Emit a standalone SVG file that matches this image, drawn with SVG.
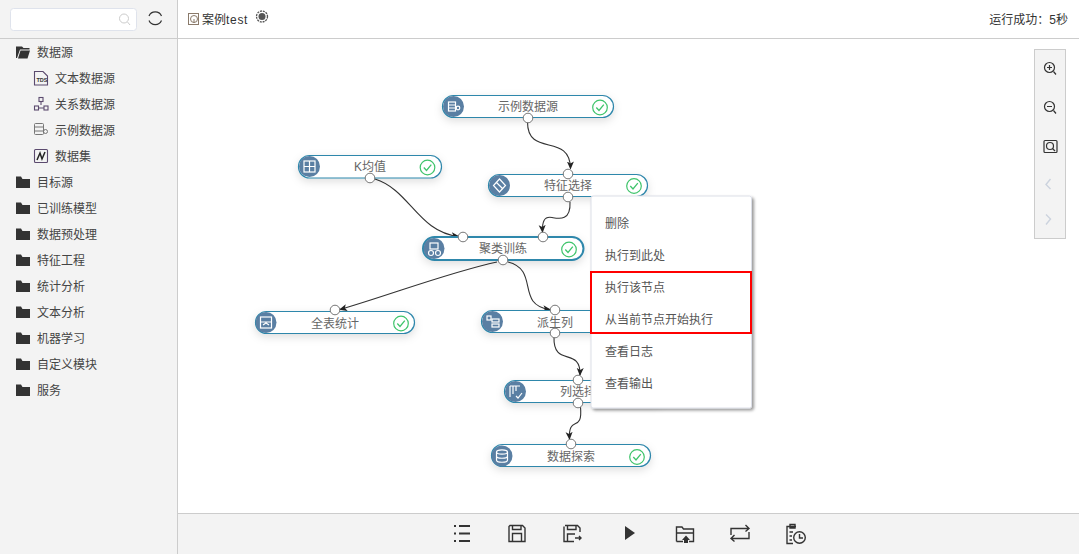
<svg xmlns="http://www.w3.org/2000/svg" width="1079" height="554" viewBox="0 0 1079 554">
<style>
text{font-family:"Liberation Sans","Noto Sans CJK SC",sans-serif;font-size:12px;fill:#444}
.nt{fill:#666;text-anchor:middle}
.pill{fill:#fff;stroke:#2f87ab;stroke-width:1.2}
.ic{fill:#5a7fa3}
.iw{fill:none;stroke:#fff;stroke-width:1.2}
.ck{fill:#fff;stroke:#3fc46b;stroke-width:1.2}
.ckm{fill:none;stroke:#3fc46b;stroke-width:1.3}
.port{fill:#fff;stroke:#777;stroke-width:1}
.conn{fill:none;stroke:#333;stroke-width:1.1;marker-end:url(#arr)}
.tb{fill:none;stroke:#333;stroke-width:1.4}
.ti{fill:none;stroke:#333;stroke-width:1.2}
.lt{fill:none;stroke:#5b4a6e;stroke-width:1.1}
.panel{fill:#f3f3f3}
</style>
<defs>
<marker id="arr" markerWidth="8" markerHeight="8" refX="7" refY="4" orient="auto" markerUnits="userSpaceOnUse"><path d="M0,0.5L8,4L0,7.5L2,4Z" fill="#222"/></marker>
<filter id="sh" x="-15%" y="-60%" width="130%" height="260%"><feDropShadow dx="0" dy="3" stdDeviation="4" flood-color="#000" flood-opacity="0.13"/></filter>
<filter id="ms" x="-10%" y="-10%" width="120%" height="120%"><feDropShadow dx="2" dy="2" stdDeviation="1.5" flood-color="#000" flood-opacity="0.4"/></filter>
<path id="fo" d="M0,2.5L0,14H14L14,5H6.5L5,2.500Z" fill="#333"/>
<g id="ok"><circle r="7.300" class="ck"/><path d="M-3.700,0L-1,3L3.800,-2.800" class="ckm"/></g>
</defs>

<rect width="1079" height="554" fill="#fff"/>

<g id="sidebar">
<rect class="panel" x="0" y="0" width="177" height="554"/>
<line x1="177.500" y1="0" x2="177.500" y2="554" stroke="#ccc"/>
<line x1="0" y1="38.500" x2="1079" y2="38.500" stroke="#ccc"/>
<rect x="10.500" y="8.500" width="126" height="22" rx="3" fill="#fff" stroke="#dfe3ec"/>
<circle cx="124" cy="18.500" r="4.500" fill="none" stroke="#ccc"/><path d="M127.500,22L130,25" stroke="#ccc" fill="none"/>
<path d="M149,16A6.800,6.800 0 0 1 161.500,16M161.500,20.500A6.800,6.800 0 0 1 149,20.500" class="ti"/>
<g id="tree">
<path d="M16,46.500H22L23.500,48H29.500V49.500H20L17,58H16Z M20.500,50.500H30L27.500,58.500H18Z" fill="#333"/>
<text x="37" y="57">数据源</text>
<g transform="translate(34,71)"><path d="M0.500,0.500H9L13.500,5V14H0.500Z" class="lt"/><text x="2.500" y="10.500" style="font-size:5.500px;font-weight:bold;fill:#333">TDS</text></g>
<text x="55" y="83">文本数据源</text>
<g transform="translate(34,97)" class="lt"><rect x="5" y="0.500" width="4" height="4"/><rect x="0.500" y="9" width="4" height="4"/><rect x="10" y="9" width="4" height="4"/><path d="M4.500,11H10M7,4.500V8"/></g>
<text x="55" y="109">关系数据源</text>
<g transform="translate(34,123)" fill="none" stroke="#777"><rect x="0.500" y="0.500" width="9" height="11" rx="1"/><path d="M0.500,4H9.500M0.500,8H9.500"/><circle cx="11.500" cy="8.500" r="2"/></g>
<text x="55" y="135">示例数据源</text>
<g transform="translate(34,149)"><rect x="0.500" y="0.500" width="13" height="13" rx="1" class="lt"/><path d="M3,11L6,4L8,10L11,3" fill="none" stroke="#222" stroke-width="1.500"/></g>
<text x="55" y="161">数据集</text>
<use href="#fo" x="16" y="174"/><text x="37" y="187">目标源</text>
<use href="#fo" x="16" y="200"/><text x="37" y="213">已训练模型</text>
<use href="#fo" x="16" y="226"/><text x="37" y="239">数据预处理</text>
<use href="#fo" x="16" y="252"/><text x="37" y="265">特征工程</text>
<use href="#fo" x="16" y="278"/><text x="37" y="291">统计分析</text>
<use href="#fo" x="16" y="304"/><text x="37" y="317">文本分析</text>
<use href="#fo" x="16" y="330"/><text x="37" y="343">机器学习</text>
<use href="#fo" x="16" y="356"/><text x="37" y="369">自定义模块</text>
<use href="#fo" x="16" y="382"/><text x="37" y="395">服务</text>
</g>
</g>

<g id="header">
<g transform="translate(188,13)" fill="none" stroke="#8a7a6a"><rect x="0.500" y="0.500" width="10" height="11"/><circle cx="6" cy="6" r="3.500"/><path d="M6,6V10"/></g>
<text x="202" y="24" style="fill:#333">案例<tspan letter-spacing="0.700">test</tspan></text>
<circle cx="262" cy="16.500" r="3.500" fill="#555"/><circle cx="262" cy="16.500" r="5.500" fill="none" stroke="#555" stroke-dasharray="2 0.900" stroke-width="1.300"/>
<text x="1068" y="24" text-anchor="end" style="fill:#333">运行成功：5秒</text>
</g>

<g id="zoombar">
<rect x="1034.500" y="49.500" width="31" height="189" fill="#f3f3f3" stroke="#ccc"/>
<g class="ti"><circle cx="1049.500" cy="67.500" r="5"/><path d="M1053.500,71.500L1056,74.500M1047,67.500H1052M1049.500,65V70"/></g>
<g class="ti"><circle cx="1049.500" cy="106.500" r="5"/><path d="M1053.500,110.500L1056,113.500M1047,106.500H1052"/></g>
<g class="ti"><rect x="1044" y="140.500" width="13" height="12" rx="1"/><circle cx="1050" cy="146" r="3.500"/><path d="M1052.500,148.500L1055,151"/></g>
<path d="M1050.500,179L1046,184.500L1050.500,189" fill="none" stroke="#ccd3de" stroke-width="1.400"/>
<path d="M1046,214.500L1050.500,219L1046,224.500" fill="none" stroke="#ccd3de" stroke-width="1.400"/>
</g>

<g id="footer">
<rect class="panel" x="178" y="513" width="901" height="41"/>
<line x1="178" y1="513.500" x2="1079" y2="513.500" stroke="#ccc"/>
<path d="M454,526H456M454,533.500H456M454,541H456M459,526H470M459,533.500H470M459,541H470" stroke="#333" stroke-width="2" fill="none"/>
<g class="tb"><path d="M510,525.500H522.500L525,528V541.500H509V526.500Z"/><path d="M512.500,525.500V529.500H521V525.500M512.500,541.500V533.500H521.500V541.500"/></g>
<g class="tb"><path d="M565,525.500H577.500L580,528V532M574,541.500H564V526.500M567.500,525.500V529.500H576V525.500M567.500,541.500V534H575"/><path d="M575,538H581M579,536L581,538L579,540"/></g>
<path d="M625,526L635,533L625,540Z" fill="#333"/>
<g class="tb"><path d="M676.500,541.500V527H682L683.500,529H693.500V541.500H689M676.500,533H693.500M676.500,541.500H683"/></g>
<path d="M686,535.500L690,540H688V543H684V540H682Z" fill="#333"/>
<g class="tb"><path d="M731,535V528.500H749M745.500,525L749,528.500L745.500,531.500M749,532V538.500H731M734.500,535L731,538.500L734.500,541.500"/></g>
<g class="tb"><path d="M796,526.500H787V543.500H793M790,526.500V524.500H795V528H790V526.500M789.500,532H793M789.500,536H792M789.500,540H792"/><circle cx="799.500" cy="537.500" r="5.800"/><path d="M799.500,534V538H803"/></g>
</g>

<g id="connectors">
<path class="conn" d="M527.500,122C527.500,158 570,132 570.500,168.500"/>
<path class="conn" d="M375,179C410,190 418,232 458.500,236.500"/>
<path class="conn" d="M570,202C571,222 558,218.500 552,217.500C544,216 542,222 542.500,232"/>
<path class="conn" d="M497,262C450,272 390,295 340,309.500"/>
<path class="conn" d="M508,262C540,270 515,305 550,309.500"/>
<path class="conn" d="M554,337C553,368 581,346 580,375"/>
<path class="conn" d="M580.500,407C583,434 568,414 569.500,439"/>
</g>

<g id="nodes">
<g id="node-sample">
<rect class="pill" filter="url(#sh)" x="442.500" y="95.500" width="171" height="22" rx="11"/>
<circle class="ic" cx="453.500" cy="106.500" r="10.500"/><g class="iw"><rect x="448.500" y="102" width="7" height="9"/><path d="M448.500,105H455.500M448.500,108H455.500"/><circle cx="458" cy="108" r="1.800"/></g>
<text class="nt" x="528" y="111">示例数据源</text><use href="#ok" x="600" y="107.500"/>
<circle class="port" cx="528" cy="118" r="4.800"/>
</g>
<g id="node-kmeans">
<rect class="pill" filter="url(#sh)" x="298.500" y="155.500" width="143" height="22.500" rx="11"/>
<circle class="ic" cx="309.500" cy="166.500" r="10.500"/><g class="iw"><rect x="304" y="161" width="11" height="11"/><path d="M309.500,161V172M304,166.500H315"/></g>
<text class="nt" x="370" y="171">K均值</text><use href="#ok" x="427.500" y="167.500"/>
<circle class="port" cx="370" cy="178" r="4.800"/>
</g>
<g id="node-feature">
<rect class="pill" filter="url(#sh)" x="488.500" y="174.500" width="159" height="22" rx="11"/>
<circle class="ic" cx="499.500" cy="185.500" r="10.500"/><path class="iw" d="M499.500,179L505.500,185.500L499.500,192L493.500,185.500ZM496.500,182.500L502.500,188.500"/>
<text class="nt" x="568" y="190">特征选择</text><use href="#ok" x="634" y="186"/>
<circle class="port" cx="568" cy="174" r="4.800"/><circle class="port" cx="568" cy="197" r="4.800"/>
</g>
<g id="node-cluster">
<rect class="pill" style="stroke-width:2" filter="url(#sh)" x="423" y="237" width="160.500" height="23" rx="11.500"/>
<circle class="ic" cx="434" cy="248.500" r="10.500"/><g class="iw"><rect x="430" y="243" width="8" height="6"/><circle cx="431" cy="253" r="2.500"/><circle cx="438" cy="253" r="2.500"/></g>
<text class="nt" x="503" y="253">聚类训练</text><use href="#ok" x="569" y="249.500"/>
<circle class="port" cx="463" cy="237" r="4.800"/><circle class="port" cx="543" cy="237" r="4.800"/><circle class="port" cx="503" cy="260" r="4.800"/>
</g>
<g id="node-stats">
<rect class="pill" filter="url(#sh)" x="255.500" y="311.500" width="159" height="22" rx="11"/>
<circle class="ic" cx="266" cy="322.500" r="10.500"/><g class="iw"><rect x="260.500" y="317" width="11" height="11"/><path d="M260.500,322H271.500M263,325L266,323L269,325"/></g>
<text class="nt" x="335" y="327.500">全表统计</text><use href="#ok" x="401" y="323.500"/>
<circle class="port" cx="335" cy="310" r="4.800"/>
</g>
<g id="node-derive">
<rect class="pill" filter="url(#sh)" x="481.500" y="310.500" width="160" height="22" rx="11"/>
<circle class="ic" cx="492.500" cy="321.500" r="10.500"/><g class="iw"><rect x="487" y="316" width="4" height="4"/><rect x="492" y="319" width="7" height="3"/><rect x="492" y="324" width="7" height="3"/></g>
<text class="nt" x="555" y="327">派生列</text>
<circle class="port" cx="555" cy="310" r="4.800"/><circle class="port" cx="555" cy="333" r="4.800"/>
</g>
<g id="node-colselect">
<rect class="pill" filter="url(#sh)" x="504.500" y="380.500" width="160" height="22" rx="11"/>
<circle class="ic" cx="515.500" cy="391.500" r="10.500"/><g class="iw"><path d="M510,386H520M510,386V397M513,386V394M516,386V391M516,396L518,398L522,393"/></g>
<text class="nt" x="578" y="396">列选择</text>
<circle class="port" cx="578" cy="380" r="4.800"/><circle class="port" cx="578" cy="403" r="4.800"/>
</g>
<g id="node-explore">
<rect class="pill" filter="url(#sh)" x="491.500" y="444.500" width="159" height="22" rx="11"/>
<circle class="ic" cx="502" cy="456" r="10.500"/><g class="iw"><ellipse cx="502" cy="452" rx="5.500" ry="2.200"/><path d="M496.500,452V460C496.500,463 507.500,463 507.500,460V452M496.500,456C496.500,459 507.500,459 507.500,456"/></g>
<text class="nt" x="571" y="461">数据探索</text><use href="#ok" x="637" y="457"/>
<circle class="port" cx="571" cy="444" r="4.800"/>
</g>
</g>

<g id="menu">
<rect x="591" y="196" width="160.500" height="212" rx="2" fill="#fff" stroke="#dcdfe8" filter="url(#ms)"/>
<text x="605" y="228" style="fill:#555">删除</text>
<text x="605" y="260" style="fill:#555">执行到此处</text>
<text x="605" y="292" style="fill:#555">执行该节点</text>
<text x="605" y="324" style="fill:#555">从当前节点开始执行</text>
<text x="605" y="356" style="fill:#555">查看日志</text>
<text x="605" y="388" style="fill:#555">查看输出</text>
<rect x="591" y="272" width="160" height="61" fill="none" stroke="#f00" stroke-width="2"/>
</g>
</svg>
